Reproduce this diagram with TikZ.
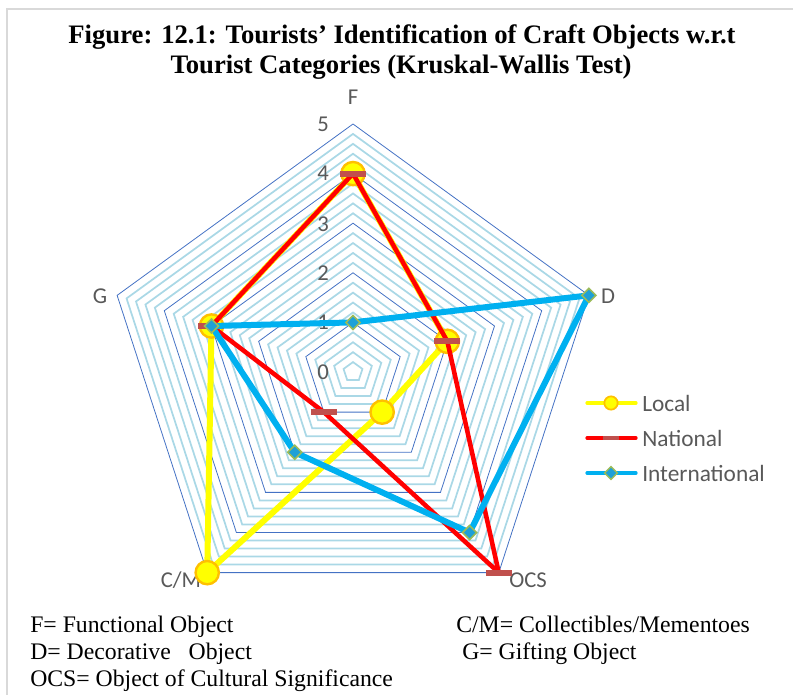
\documentclass[tikz,border=0pt]{standalone}
\usepackage{fontspec}
\setmainfont{Liberation Serif}
\newfontfamily\calib{Carlito}
\usetikzlibrary{shapes.geometric}
\definecolor{gridlight}{RGB}{170,216,230}
\definecolor{griddark}{RGB}{68,114,196}
\definecolor{txtgray}{RGB}{89,89,89}
\definecolor{framegray}{RGB}{217,217,217}
\definecolor{locyellow}{RGB}{255,255,0}
\definecolor{locorange}{RGB}{255,192,0}
\definecolor{natred}{RGB}{255,0,0}
\definecolor{natdash}{RGB}{192,80,77}
\definecolor{intblue}{RGB}{0,176,240}
\definecolor{intfill}{RGB}{30,160,215}
\definecolor{intedge}{RGB}{155,187,89}
\begin{document}
\begin{tikzpicture}[x=0.75pt,y=-0.75pt,
  axlbl/.style={font=\calib\fontsize{17}{20}\selectfont, text=txtgray, inner sep=0pt},
  leglbl/.style={font=\calib\fontsize{17.5}{21}\selectfont, text=txtgray, inner sep=0pt, anchor=west},
  titletxt/.style={font=\bfseries\fontsize{20}{24}\selectfont, inner sep=0pt, anchor=base},
  notetxt/.style={font=\fontsize{17.8}{21}\selectfont, inner sep=0pt, anchor=base west},
  lightring/.style={draw=gridlight, line width=1.3pt},
  darkring/.style={draw=griddark, line width=0.6pt},
  locline/.style={draw=locyellow, line width=4.5pt, line join=round},
  natline/.style={draw=natred, line width=3.4pt, line join=round},
  intline/.style={draw=intblue, line width=4.5pt, line join=round},
  locmark/.style={circle, fill=locyellow, draw=locorange, line width=1.8pt, minimum size=17.5pt, inner sep=0pt},
  natmark/.style={rectangle, fill=natdash, minimum width=19.5pt, minimum height=4.5pt, inner sep=0pt},
  intmark/.style={diamond, aspect=1, fill=intfill, draw=intedge, line width=1.2pt, minimum size=11pt, inner sep=0pt},
  loclegmark/.style={circle, fill=locyellow, draw=locorange, line width=1.3pt, minimum size=10pt, inner sep=0pt},
  natlegmark/.style={rectangle, fill=natdash, minimum width=12pt, minimum height=3.5pt, inner sep=0pt},
  intlegmark/.style={diamond, aspect=1, fill=intfill, draw=intedge, line width=1.1pt, minimum size=10pt, inner sep=0pt},
  legline/.style={line width=2.4pt, line cap=round}
]
\useasboundingbox (0,0) rectangle (793,695);
\draw[framegray, line width=1.5pt] (7,695) -- (7,9) -- (793,9);

% title
\node[titletxt] (t1) at (402,44) {Figure: 12.1: Tourists’ Identification of Craft Objects w.r.t};
\node[titletxt] (t2) at (401,74) {Tourist Categories (Kruskal-Wallis Test)};

% radar grid
\begin{scope}[shift={(353,372)}, yscale=-1]
  \foreach \i in {1,...,24}{
    \pgfmathtruncatemacro\m{mod(\i,5)}
    \ifnum\m>0
      \draw[lightring] (90:{\i*9.92}) -- (18:{\i*9.92}) -- (-54:{\i*9.92}) -- (-126:{\i*9.92}) -- (162:{\i*9.92}) -- cycle;
    \fi
  }
  \foreach \v in {1,...,5}{
    \draw[darkring] (90:{\v*49.6}) -- (18:{\v*49.6}) -- (-54:{\v*49.6}) -- (-126:{\v*49.6}) -- (162:{\v*49.6}) -- cycle;
  }
  % data points
  \coordinate (LF) at (90:{4*49.6});
  \coordinate (LD) at (18:{2*49.6});
  \coordinate (LO) at (-54:{1*49.6});
  \coordinate (LC) at (-126:{5*49.6});
  \coordinate (LG) at (162:{3*49.6});
  \coordinate (NF) at (90:{4*49.6});
  \coordinate (ND) at (18:{2*49.6});
  \coordinate (NO) at (-54:{5*49.6});
  \coordinate (NC) at (-126:{1*49.6});
  \coordinate (NG) at (162:{3*49.6});
  \coordinate (IF) at (90:{1*49.6});
  \coordinate (ID) at (18:{5*49.6});
  \coordinate (IO) at (-54:{4*49.6});
  \coordinate (IC) at (-126:{2*49.6});
  \coordinate (IG) at (162:{3*49.6});
\end{scope}

% axis value labels
\foreach \v/\yy in {0/372,1/322,2/273,3/224,4/173,5/124}{
  \node[axlbl] (v\v) at (323,\yy) {\v};
}
% category labels
\node[axlbl] (cF) at (353,97) {F};
\node[axlbl] (cD) at (608,296) {D};
\node[axlbl] (cO) at (528,580) {OCS};
\node[axlbl] (cC) at (181,580) {C/M};
\node[axlbl] (cG) at (100,296) {G};

% Local series
\draw[locline] (LF) -- (LD) -- (LO) -- (LC) -- (LG) -- cycle;
\foreach \p in {LF,LD,LO,LC,LG}{ \node[locmark] (m\p) at (\p) {}; }
% National series
\draw[natline] (NF) -- (ND) -- (NO) -- (NC) -- (NG) -- cycle;
\foreach \p in {NF,ND,NO,NC,NG}{ \node[natmark] (m\p) at (\p) {}; }
% International series
\draw[intline] (IF) -- (ID) -- (IO) -- (IC) -- (IG) -- cycle;
\foreach \p in {IF,ID,IO,IC,IG}{ \node[intmark] (m\p) at (\p) {}; }

% legend
\coordinate (la1) at (587,403); \coordinate (lb1) at (636,403);
\coordinate (la2) at (587,438); \coordinate (lb2) at (636,438);
\coordinate (la3) at (587,473); \coordinate (lb3) at (636,473);
\draw[legline, locyellow] (la1) -- (lb1);
\node[loclegmark] (lm1) at (611,403) {};
\draw[legline, natred] (la2) -- (lb2);
\node[natlegmark] (lm2) at (611,438) {};
\draw[legline, intblue] (la3) -- (lb3);
\node[intlegmark] (lm3) at (611,473) {};
\node[leglbl] (lt1) at (642,403) {Local};
\node[leglbl] (lt2) at (642,438) {National};
\node[leglbl] (lt3) at (642,473) {International};

% notes
\node[notetxt] (n1) at (30,632) {F= Functional Object};
\node[notetxt] (n2) at (30,659) {D= Decorative\ \ \ Object};
\node[notetxt] (n3) at (30,686) {OCS= Object of Cultural Significance};
\node[notetxt] (n4) at (456,632) {C/M= Collectibles/Mementoes};
\node[notetxt] (n5) at (462,659) {G= Gifting Object};
\end{tikzpicture}
\end{document}
